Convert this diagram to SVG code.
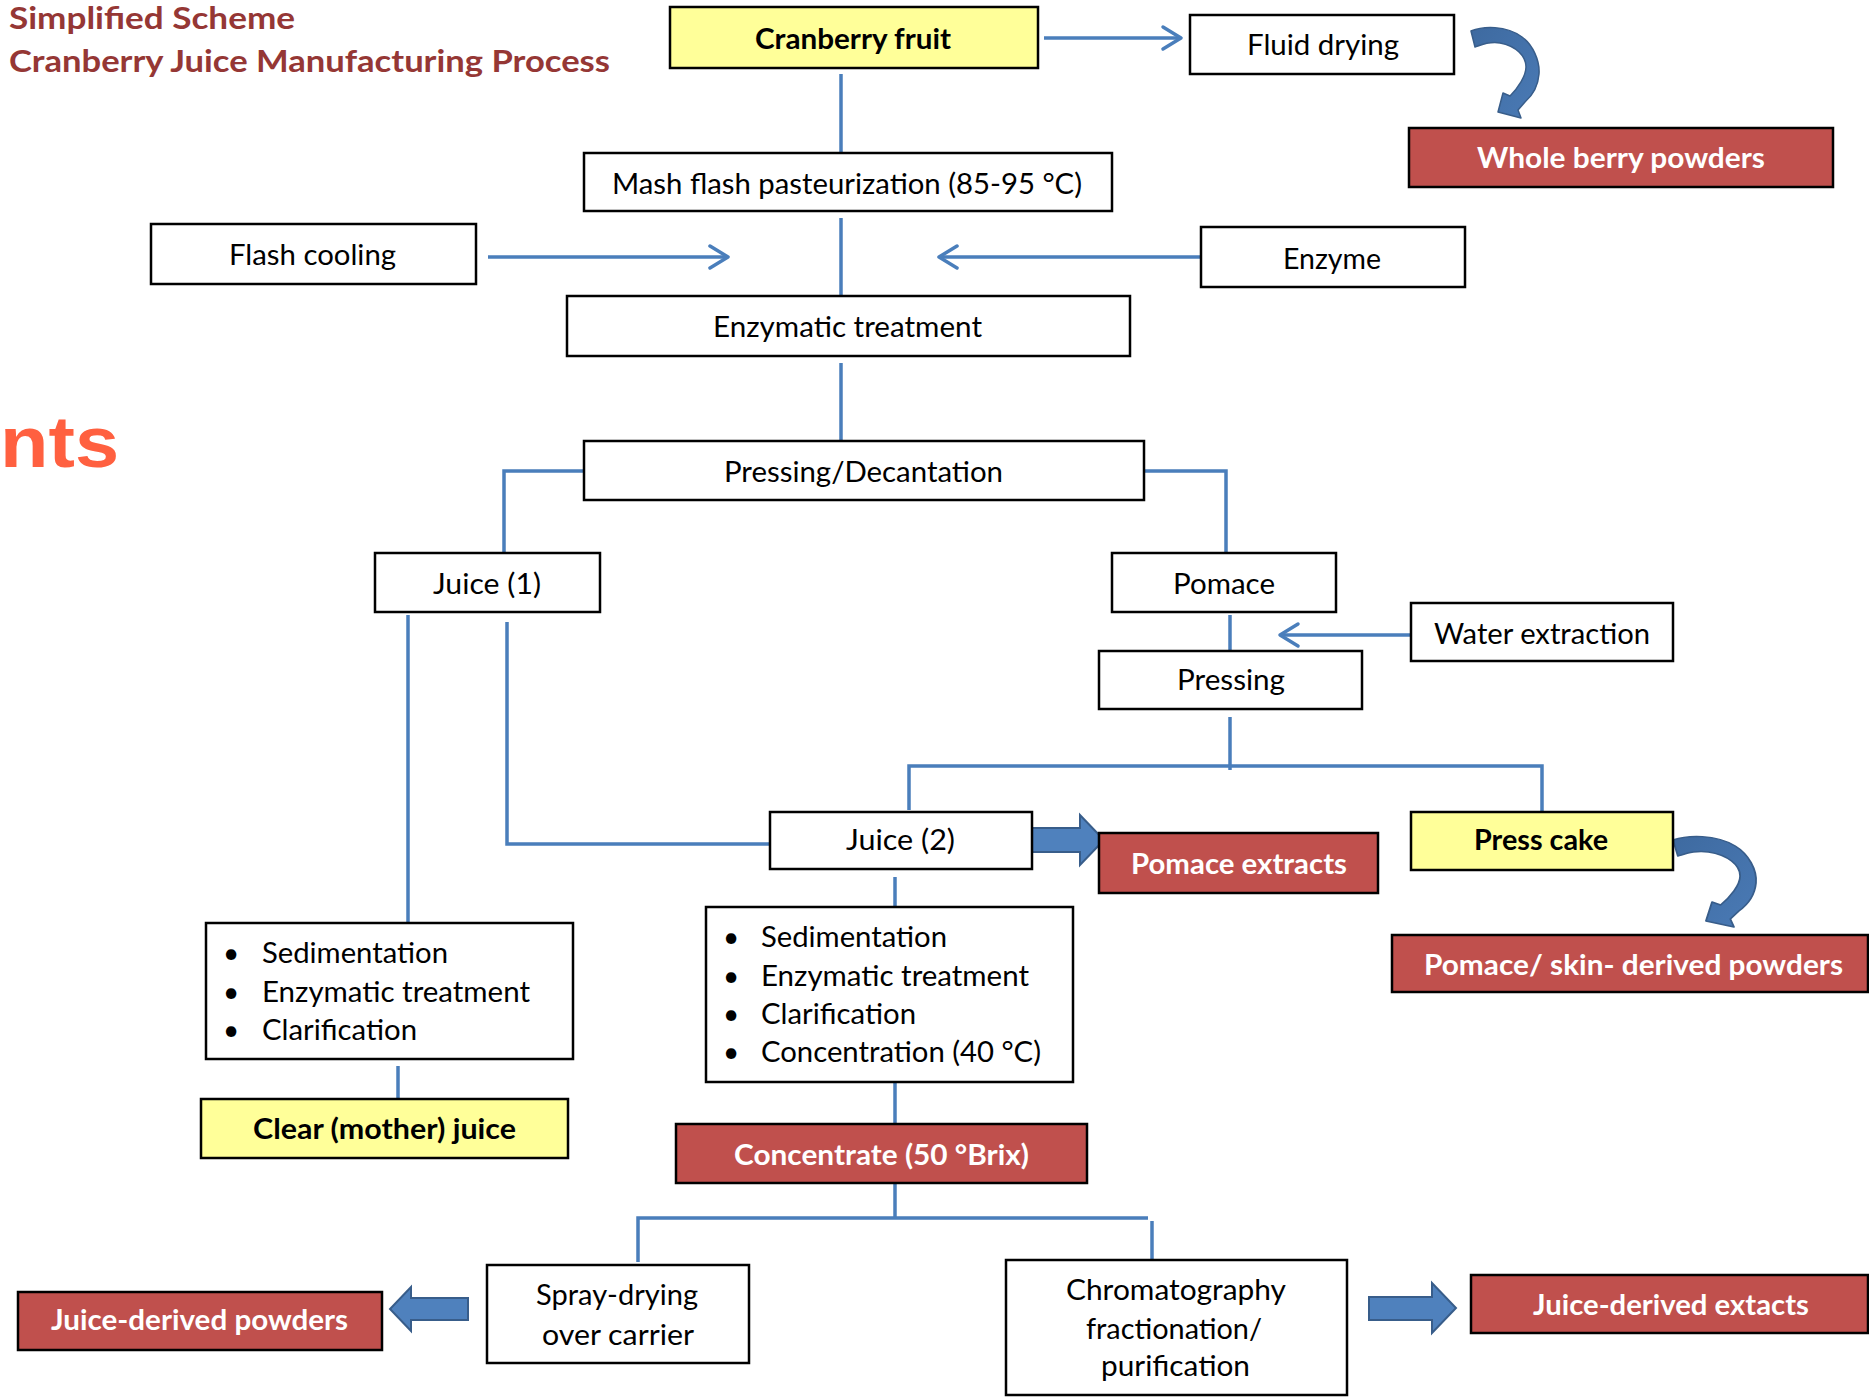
<svg xmlns="http://www.w3.org/2000/svg" xmlns:xlink="http://www.w3.org/1999/xlink" width="1869" height="1397" viewBox="0 0 1869 1397">
<style>
.box{fill:#fff;stroke:#000;stroke-width:2.5}
.yel{fill:#FFFF99;stroke:#000;stroke-width:2.5}
.red{fill:#C0504D;stroke:#000;stroke-width:2.5}
.t{font-family:Lato,"Open Sans","Liberation Sans",sans-serif;font-size:28px;fill:#000;text-anchor:middle}
.l{text-anchor:start}
.b{font-weight:700}
.w{fill:#fff;font-weight:700}
.ln{stroke:#4A7EBB;stroke-width:3.5;fill:none}
.blk{fill:#4F81BD;stroke:#385D8A;stroke-width:2}
.curv{fill:url(#cg);stroke:#385D8A;stroke-width:1.5;stroke-linejoin:round}
.title{font-family:Lato,"Open Sans","Liberation Sans",sans-serif;font-size:30px;font-weight:700;fill:#953735}
</style>
<defs>
<marker id="ah" markerUnits="userSpaceOnUse" markerWidth="26" markerHeight="28" refX="21" refY="14" orient="auto">
<path d="M3,3 L21,14 L3,25" fill="none" stroke="#4A7EBB" stroke-width="3.5" stroke-linecap="round" stroke-linejoin="round"/>
</marker>
<linearGradient id="cg" x1="0" y1="0" x2="1" y2="1">
<stop offset="0" stop-color="#3E6AA0"/>
<stop offset="1" stop-color="#4A7AB5"/>
</linearGradient>
<path id="curvShape" class="curv" d="M0 0 C12 -5,35 -6,51 6 C62 14,69 30,68 43 C67 56,62 64,54 71 L47 79 L50 87 L27 81 L32 62 L39 65 C47 57,55 45,55 36 C55 25,45 15,29 12 C18 10,10 14,4 16 Z"/>
</defs>

<g id="titles">
<text class="title" x="9" y="29" textLength="286" lengthAdjust="spacingAndGlyphs">Simplified Scheme</text>
<text class="title" x="9" y="72" textLength="601" lengthAdjust="spacingAndGlyphs">Cranberry Juice Manufacturing Process</text>
<text x="119" y="467" font-family="'Liberation Sans',Arial,sans-serif" font-size="72" font-weight="700" fill="#FF6040" text-anchor="end" textLength="119" lengthAdjust="spacingAndGlyphs">nts</text>
</g>

<g id="connectors">
<line class="ln" x1="1044" y1="38" x2="1181" y2="38" marker-end="url(#ah)"/>
<line class="ln" x1="841" y1="74" x2="841" y2="153"/>
<line class="ln" x1="841" y1="218" x2="841" y2="298"/>
<line class="ln" x1="488" y1="257" x2="728" y2="257" marker-end="url(#ah)"/>
<line class="ln" x1="1201" y1="257" x2="939" y2="257" marker-end="url(#ah)"/>
<line class="ln" x1="841" y1="363" x2="841" y2="443"/>
<polyline class="ln" points="584,471 504,471 504,553"/>
<polyline class="ln" points="1144,471 1226,471 1226,553"/>
<line class="ln" x1="408" y1="615" x2="408" y2="922"/>
<polyline class="ln" points="507,622 507,844 770,844"/>
<line class="ln" x1="1230" y1="615" x2="1230" y2="651"/>
<line class="ln" x1="1411" y1="635" x2="1280" y2="635" marker-end="url(#ah)"/>
<line class="ln" x1="1230" y1="717" x2="1230" y2="770"/>
<polyline class="ln" points="909,810 909,766 1542,766 1542,812"/>
<line class="ln" x1="895" y1="877" x2="895" y2="910"/>
<line class="ln" x1="398" y1="1066" x2="398" y2="1099"/>
<line class="ln" x1="895" y1="1082" x2="895" y2="1124"/>
<line class="ln" x1="895" y1="1183" x2="895" y2="1218"/>
<polyline class="ln" points="638,1262 638,1218 1148,1218"/>
<line class="ln" x1="1152" y1="1221" x2="1152" y2="1259"/>
<use xlink:href="#curvShape" transform="translate(1471,31)"/>
<use xlink:href="#curvShape" transform="translate(1673,840) scale(1.22,1.0)"/>
<path class="blk" d="M1014 828 L1080 828 L1080 815 L1104 840 L1080 865 L1080 852 L1014 852 Z"/>
<path class="blk" d="M468 1298 L411 1298 L411 1287 L390 1309 L411 1331 L411 1320 L468 1320 Z"/>
<path class="blk" d="M1369 1297 L1432 1297 L1432 1283 L1456 1308 L1432 1333 L1432 1320 L1369 1320 Z"/>
</g>

<g id="cranberry-fruit">
<rect class="yel" x="670" y="7" width="368" height="61"/>
<text class="t b" x="853" y="49" textLength="196" lengthAdjust="spacingAndGlyphs">Cranberry fruit</text>
</g>
<g id="fluid-drying">
<rect class="box" x="1190" y="15" width="264" height="59"/>
<text class="t" x="1323" y="55" textLength="152" lengthAdjust="spacingAndGlyphs">Fluid drying</text>
</g>
<g id="whole-berry-powders">
<rect class="red" x="1409" y="128" width="424" height="59"/>
<text class="t w" x="1621" y="168" textLength="288" lengthAdjust="spacingAndGlyphs">Whole berry powders</text>
</g>
<g id="mash">
<rect class="box" x="584" y="153" width="528" height="58"/>
<text class="t" x="847" y="194" textLength="470" lengthAdjust="spacingAndGlyphs">Mash flash pasteurization (85-95 °C)</text>
</g>
<g id="flash-cooling">
<rect class="box" x="151" y="224" width="325" height="60"/>
<text class="t" x="312.5" y="265" textLength="167" lengthAdjust="spacingAndGlyphs">Flash cooling</text>
</g>
<g id="enzyme">
<rect class="box" x="1201" y="227" width="264" height="60"/>
<text class="t" x="1332" y="269" textLength="98" lengthAdjust="spacingAndGlyphs">Enzyme</text>
</g>
<g id="enzymatic-treatment">
<rect class="box" x="567" y="296" width="563" height="60"/>
<text class="t" x="847.5" y="337" textLength="269" lengthAdjust="spacingAndGlyphs">Enzymatic treatment</text>
</g>
<g id="pressing-decantation">
<rect class="box" x="584" y="441" width="560" height="59"/>
<text class="t" x="863.5" y="482" textLength="279" lengthAdjust="spacingAndGlyphs">Pressing/Decantation</text>
</g>
<g id="juice1">
<rect class="box" x="375" y="553" width="225" height="59"/>
<text class="t" x="487" y="594" textLength="108" lengthAdjust="spacingAndGlyphs">Juice (1)</text>
</g>
<g id="pomace">
<rect class="box" x="1112" y="553" width="224" height="59"/>
<text class="t" x="1224" y="594" textLength="102" lengthAdjust="spacingAndGlyphs">Pomace</text>
</g>
<g id="water-extraction">
<rect class="box" x="1411" y="603" width="262" height="58"/>
<text class="t" x="1542" y="644" textLength="216" lengthAdjust="spacingAndGlyphs">Water extraction</text>
</g>
<g id="pressing">
<rect class="box" x="1099" y="651" width="263" height="58"/>
<text class="t" x="1231" y="690" textLength="108" lengthAdjust="spacingAndGlyphs">Pressing</text>
</g>
<g id="juice2">
<rect class="box" x="770" y="812" width="262" height="57"/>
<text class="t" x="900.5" y="850" textLength="109" lengthAdjust="spacingAndGlyphs">Juice (2)</text>
</g>
<g id="pomace-extracts">
<rect class="red" x="1099" y="833" width="279" height="60"/>
<text class="t w" x="1239" y="874" textLength="216" lengthAdjust="spacingAndGlyphs">Pomace extracts</text>
</g>
<g id="press-cake">
<rect class="yel" x="1411" y="812" width="262" height="58"/>
<text class="t b" x="1541" y="850" textLength="134" lengthAdjust="spacingAndGlyphs">Press cake</text>
</g>
<g id="pomace-skin-powders">
<rect class="red" x="1392" y="935" width="476" height="57"/>
<text class="t w" x="1633.5" y="975" textLength="419" lengthAdjust="spacingAndGlyphs">Pomace/ skin- derived powders</text>
</g>
<g id="left-steps">
<rect class="box" x="206" y="923" width="367" height="136"/>
<text class="t" x="231" y="963">•</text>
<text class="t" x="231" y="1001.5">•</text>
<text class="t" x="231" y="1040">•</text>
<text class="t l" x="262" y="963" textLength="186" lengthAdjust="spacingAndGlyphs">Sedimentation</text>
<text class="t l" x="262" y="1001.5" textLength="268" lengthAdjust="spacingAndGlyphs">Enzymatic treatment</text>
<text class="t l" x="262" y="1040" textLength="155" lengthAdjust="spacingAndGlyphs">Clarification</text>
</g>
<g id="right-steps">
<rect class="box" x="706" y="907" width="367" height="175"/>
<text class="t" x="731" y="947">•</text>
<text class="t" x="731" y="985.5">•</text>
<text class="t" x="731" y="1024">•</text>
<text class="t" x="731" y="1062">•</text>
<text class="t l" x="761" y="947" textLength="186" lengthAdjust="spacingAndGlyphs">Sedimentation</text>
<text class="t l" x="761" y="985.5" textLength="268" lengthAdjust="spacingAndGlyphs">Enzymatic treatment</text>
<text class="t l" x="761" y="1024" textLength="155" lengthAdjust="spacingAndGlyphs">Clarification</text>
<text class="t l" x="761" y="1062" textLength="280" lengthAdjust="spacingAndGlyphs">Concentration (40 °C)</text>
</g>
<g id="clear-juice">
<rect class="yel" x="201" y="1099" width="367" height="59"/>
<text class="t b" x="384.5" y="1139" textLength="263" lengthAdjust="spacingAndGlyphs">Clear (mother) juice</text>
</g>
<g id="concentrate">
<rect class="red" x="676" y="1124" width="411" height="59"/>
<text class="t w" x="881.5" y="1165" textLength="295" lengthAdjust="spacingAndGlyphs">Concentrate (50 °Brix)</text>
</g>
<g id="spray-drying">
<rect class="box" x="487" y="1265" width="262" height="98"/>
<text class="t" x="617" y="1305" textLength="162" lengthAdjust="spacingAndGlyphs">Spray-drying</text>
<text class="t" x="618" y="1345" textLength="152" lengthAdjust="spacingAndGlyphs">over carrier</text>
</g>
<g id="juice-powders">
<rect class="red" x="18" y="1292" width="364" height="58"/>
<text class="t w" x="199.5" y="1330" textLength="297" lengthAdjust="spacingAndGlyphs">Juice-derived powders</text>
</g>
<g id="chromatography">
<rect class="box" x="1006" y="1260" width="341" height="135"/>
<text class="t" x="1176" y="1300" textLength="220" lengthAdjust="spacingAndGlyphs">Chromatography</text>
<text class="t" x="1174" y="1339" textLength="176" lengthAdjust="spacingAndGlyphs">fractionation/</text>
<text class="t" x="1175.5" y="1376" textLength="149" lengthAdjust="spacingAndGlyphs">purification</text>
</g>
<g id="juice-extracts">
<rect class="red" x="1471" y="1275" width="397" height="58"/>
<text class="t w" x="1671" y="1315" textLength="276" lengthAdjust="spacingAndGlyphs">Juice-derived extacts</text>
</g>
</svg>
